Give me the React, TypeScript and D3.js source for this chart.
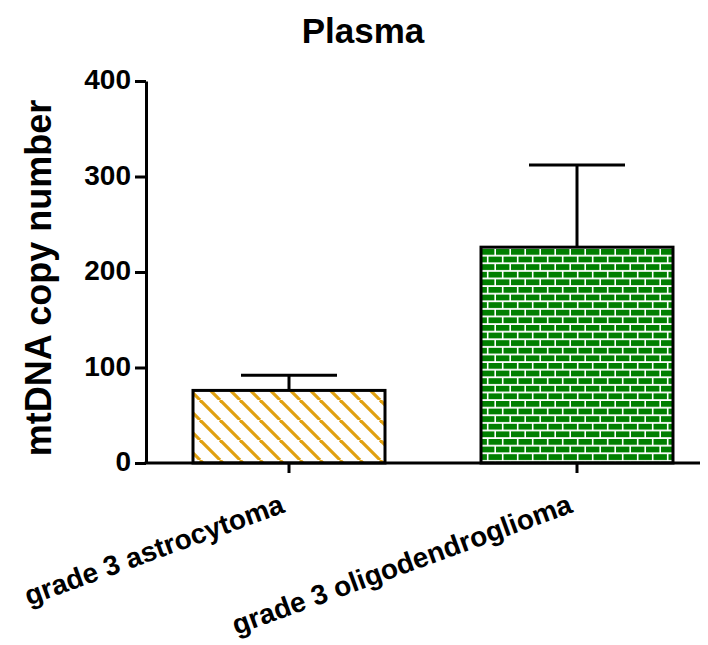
import React, { useEffect, useRef } from "react";
import * as d3 from "d3";

const categories = ["grade 3 astrocytoma", "grade 3 oligodendroglioma"];
const means = [76, 226];
const sems = [16, 86];
const yTicks = [0, 100, 200, 300, 400];
const fills = ["url(#hatch)", "url(#brick)"];

const App = () => {
  const ref = useRef<SVGSVGElement>(null);

  useEffect(() => {
    const width = 708;
    const height = 645;
    const font = "'Liberation Sans', Arial, sans-serif";

    const svg = d3.select(ref.current);
    svg.selectAll("*").remove();
    svg.attr("width", width).attr("height", height);

    const defs = svg.append("defs");

    // diagonal hatch for the first bar
    const hatch = defs
      .append("pattern")
      .attr("id", "hatch")
      .attr("patternUnits", "userSpaceOnUse")
      .attr("width", 20)
      .attr("height", 20);
    hatch.append("rect").attr("width", 20).attr("height", 20).attr("fill", "#fff");
    [-20, 0, 20].forEach((o) => {
      hatch
        .append("line")
        .attr("x1", o)
        .attr("y1", 0)
        .attr("x2", o + 20)
        .attr("y2", 20)
        .attr("stroke", "#E0A010")
        .attr("stroke-width", 3.2);
    });

    // brick pattern for the second bar
    const bw = 15;
    const bh = 7.6;
    const brick = defs
      .append("pattern")
      .attr("id", "brick")
      .attr("patternUnits", "userSpaceOnUse")
      .attr("x", 481)
      .attr("y", 249)
      .attr("width", bw)
      .attr("height", bh * 2);
    brick.append("rect").attr("width", bw).attr("height", bh * 2).attr("fill", "#fff");
    [
      [0, 0],
      [-bw / 2, bh],
      [bw / 2, bh],
    ].forEach(([bx, by]) => {
      brick
        .append("rect")
        .attr("x", bx)
        .attr("y", by)
        .attr("width", bw - 1.6)
        .attr("height", bh - 1.8)
        .attr("fill", "#007F00");
    });

    const x0 = 146;
    const y = d3.scaleLinear().domain([0, 400]).range([463, 81]);
    const x = d3
      .scaleBand<string>()
      .domain(categories)
      .range([x0 - 1, x0 + 575])
      .paddingInner(1 / 3)
      .paddingOuter(1 / 6);

    const g = svg.append("g");

    // bars
    g.selectAll("rect.bar")
      .data(categories)
      .join("rect")
      .attr("class", "bar")
      .attr("x", (d) => x(d)!)
      .attr("y", (d, i) => y(means[i]))
      .attr("width", x.bandwidth())
      .attr("height", (d, i) => y(0) - y(means[i]))
      .attr("fill", (d, i) => fills[i])
      .attr("stroke", "#000")
      .attr("stroke-width", 3);

    // error bars (upper only)
    categories.forEach((c, i) => {
      const cx = x(c)! + x.bandwidth() / 2;
      const top = y(means[i] + sems[i]);
      g.append("line")
        .attr("x1", cx)
        .attr("x2", cx)
        .attr("y1", y(means[i]))
        .attr("y2", top)
        .attr("stroke", "#000")
        .attr("stroke-width", 3);
      g.append("line")
        .attr("x1", cx - x.bandwidth() / 4)
        .attr("x2", cx + x.bandwidth() / 4)
        .attr("y1", top)
        .attr("y2", top)
        .attr("stroke", "#000")
        .attr("stroke-width", 3);
    });

    // y axis
    const yAxis = g
      .append("g")
      .attr("transform", `translate(${x0},0)`)
      .call(d3.axisLeft(y).tickValues(yTicks).tickSize(11).tickPadding(4).tickSizeOuter(0));
    yAxis.select(".domain").attr("stroke", "#000").attr("stroke-width", 3);
    yAxis.selectAll(".tick line").attr("stroke", "#000").attr("stroke-width", 3);
    yAxis
      .selectAll(".tick text")
      .attr("font-family", font)
      .attr("font-weight", "bold")
      .attr("font-size", 28)
      .attr("dy", "0.28em")
      .attr("fill", "#000");

    // x axis
    g.append("line")
      .attr("x1", x0 - 1.5)
      .attr("x2", 700)
      .attr("y1", y(0))
      .attr("y2", y(0))
      .attr("stroke", "#000")
      .attr("stroke-width", 3);
    categories.forEach((c) => {
      const cx = x(c)! + x.bandwidth() / 2;
      g.append("line")
        .attr("x1", cx)
        .attr("x2", cx)
        .attr("y1", y(0))
        .attr("y2", y(0) + 10)
        .attr("stroke", "#000")
        .attr("stroke-width", 3);
      g.append("text")
        .attr("transform", `translate(${cx - 3},${y(0) + 49}) rotate(-20)`)
        .attr("text-anchor", "end")
        .attr("font-family", font)
        .attr("font-weight", "bold")
        .attr("font-size", 28)
        .text(c);
    });

    // title
    svg
      .append("text")
      .attr("x", 363)
      .attr("y", 43)
      .attr("text-anchor", "middle")
      .attr("font-family", font)
      .attr("font-weight", "bold")
      .attr("font-size", 35)
      .text("Plasma");

    // y label
    svg
      .append("text")
      .attr("transform", `translate(51,${(81 + 463) / 2 + 6}) rotate(-90)`)
      .attr("text-anchor", "middle")
      .attr("font-family", font)
      .attr("font-weight", "bold")
      .attr("font-size", 36)
      .text("mtDNA copy number");
  }, []);

  return (
    <div>
      <svg ref={ref} style={{ position: "absolute", left: 0, top: 0 }}></svg>
    </div>
  );
};

export default App;
